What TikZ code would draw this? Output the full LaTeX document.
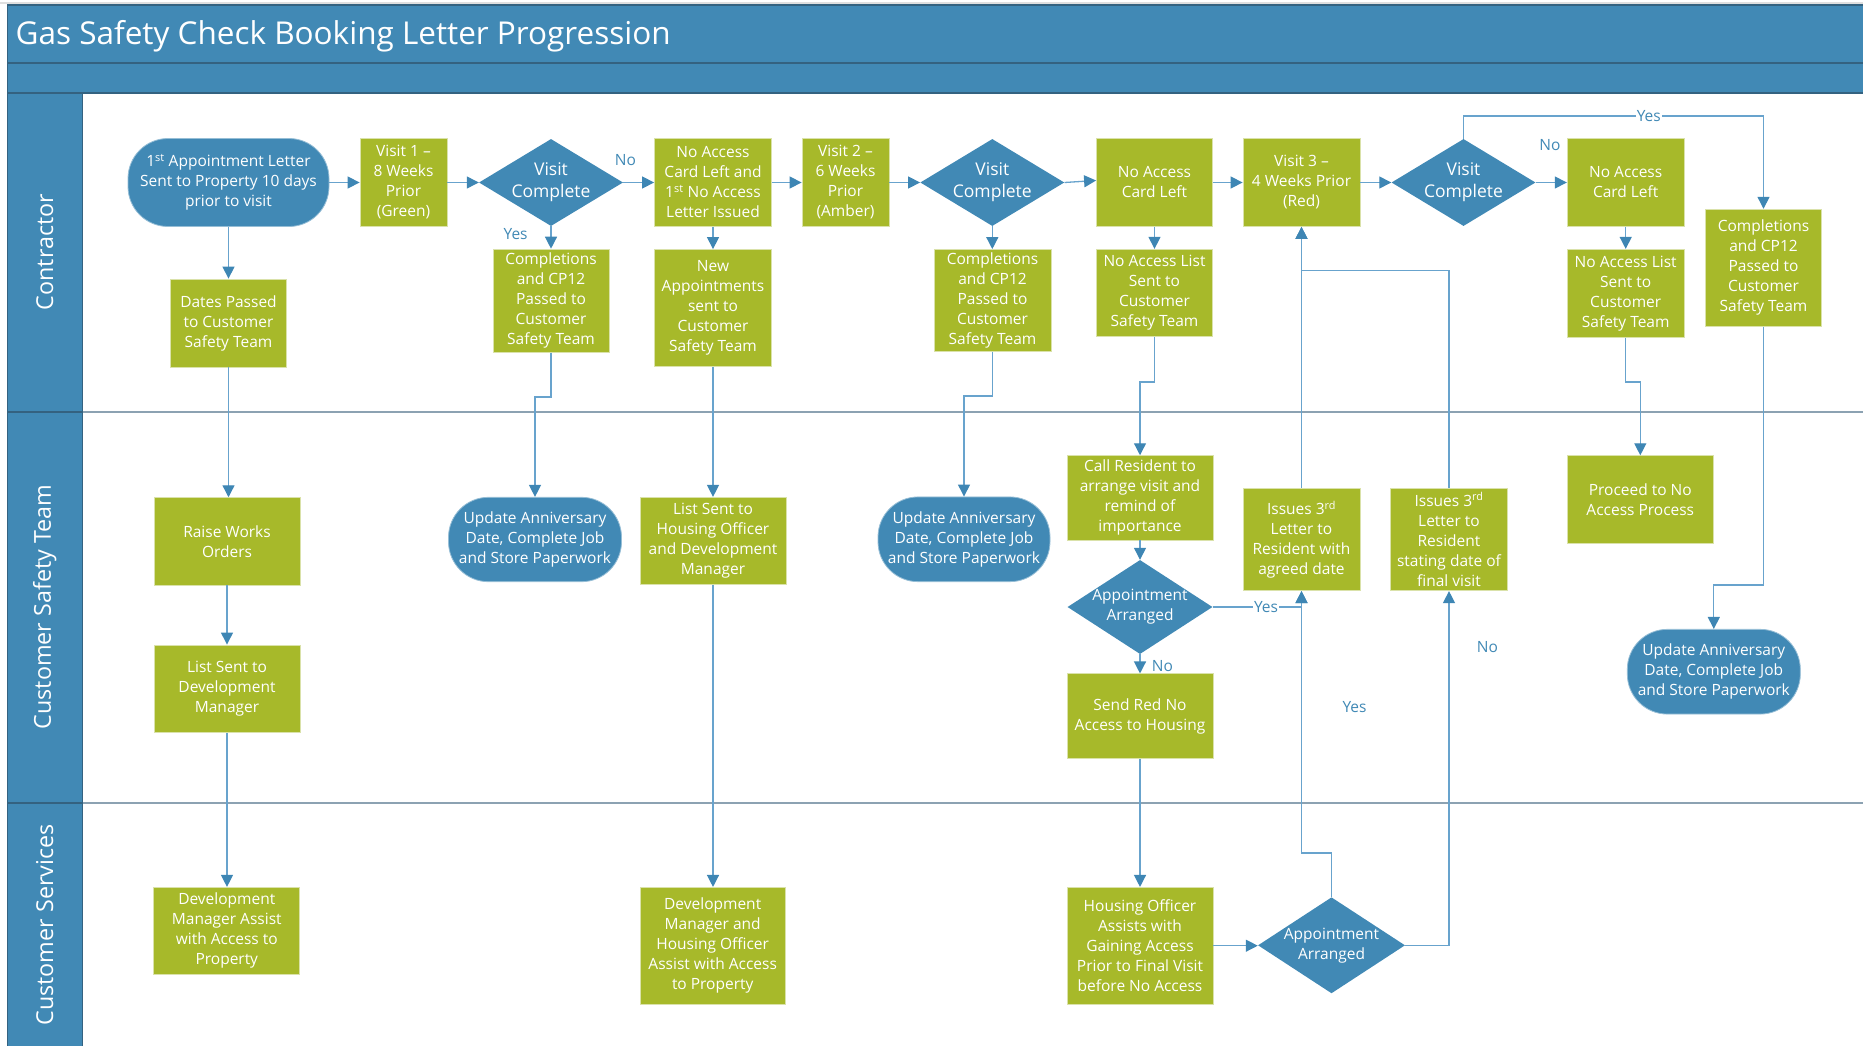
\documentclass[tikz,border=0pt]{standalone}
\usepackage{fontspec}
\setmainfont{Open Sans}
\usetikzlibrary{arrows.meta,shapes.geometric,calc}
\definecolor{laneblue}{RGB}{65,137,181}
\definecolor{darkrule}{RGB}{52,98,128}
\definecolor{leaf}{RGB}{167,185,42}
\definecolor{leafedge}{RGB}{218,226,170}
\definecolor{wire}{RGB}{104,163,205}
\definecolor{tipblue}{RGB}{62,134,180}
\definecolor{lanerule}{RGB}{140,162,178}

\begin{document}
\begin{tikzpicture}[x=1pt,y=-1pt,
  txt/.style={font=\fontsize{15.5}{20}\selectfont, text=white, align=center},
  box/.style={txt, rectangle, fill=leaf, draw=leafedge, line width=0.8pt, inner sep=0pt},
  term/.style={txt, rectangle, rounded corners=40pt, fill=laneblue, draw=laneblue!55!white, line width=0.8pt, inner sep=0pt},
  dia/.style={diamond, fill=laneblue, inner sep=0pt},
  diatext/.style={txt, inner sep=0pt},
  lbl/.style={font=\fontsize{15.5}{20}\selectfont, text=laneblue, inner sep=1pt},
  lanetitle/.style={rotate=90, font=\fontsize{23.3}{28}\selectfont, text=white},
  flow/.style={draw=wire, line width=1.3pt, -{Triangle[length=12pt,width=12pt,color=tipblue]}}
]
\useasboundingbox (0,0) rectangle (1863,1046);

% ---- frame: title bar, sub band and lane headers ----
\draw[gray!25, line width=1.5pt] (0,3) -- (1863,3);
\fill[laneblue] (7,5) rectangle (1863,93);
\fill[laneblue] (7,93) rectangle (82.5,1046);
\draw[darkrule, line width=1.5pt] (7,5) -- (1863,5);
\draw[darkrule, line width=1.5pt] (7,63) -- (1863,63);
\draw[darkrule, line width=1.5pt] (7,93) -- (1863,93);
\draw[darkrule, line width=0.8pt] (7,5) -- (7,1046);
\draw[darkrule, line width=0.8pt] (82.5,93) -- (82.5,1046);
\draw[lanerule, line width=2pt] (82.5,411.5) -- (1863,411.5);
\draw[lanerule, line width=2pt] (82.5,802.5) -- (1863,802.5);
\draw[darkrule, line width=2pt] (7,411.5) -- (82.5,411.5);
\draw[darkrule, line width=2pt] (7,802.5) -- (82.5,802.5);

\node[anchor=base west, font=\fontsize{31.5}{36}\selectfont, text=white, inner sep=0pt] (title) at (15.5,45) {Gas Safety Check Booking Letter Progression};

\node[lanetitle] (laneA) at (44.8,252) {Contractor};
\node[lanetitle] (laneB) at (44.8,607) {Customer Safety Team};
\node[lanetitle] (laneC) at (44.8,925) {Customer Services};

% ---- Contractor lane, top row ----
\node[term, minimum width=201pt, minimum height=88pt] (start) at (228.5,182.5) {1\textsuperscript{st} Appointment Letter\\Sent to Property 10 days\\prior to visit};
\node[box, minimum width=87pt, minimum height=88pt] (v1) at (403.5,182.5) {Visit 1 –\\8 Weeks\\Prior\\(Green)};
\node[dia, minimum width=144pt, minimum height=87pt] (d1) at (551,182.5) {};
\node[diatext, font=\fontsize{17.5}{22}\selectfont] (d1t) at (d1) {Visit\\Complete};
\node[box, minimum width=117pt, minimum height=88pt] (nac1) at (713,182.5) {No Access\\Card Left and\\1\textsuperscript{st} No Access\\Letter Issued};
\node[box, minimum width=87pt, minimum height=88pt] (v2) at (845.5,182.5) {Visit 2 –\\6 Weeks\\Prior\\(Amber)};
\node[dia, minimum width=144pt, minimum height=87pt] (d2) at (992.3,182.5) {};
\node[diatext, font=\fontsize{17.5}{22}\selectfont] (d2t) at (d2) {Visit\\Complete};
\node[box, minimum width=116pt, minimum height=88pt] (nac2) at (1154.5,182.5) {No Access\\Card Left};
\node[box, minimum width=117pt, minimum height=88pt] (v3) at (1301.5,182.5) {Visit 3 –\\4 Weeks Prior\\(Red)};
\node[dia, minimum width=144pt, minimum height=87pt] (d3) at (1463.5,182.5) {};
\node[diatext, font=\fontsize{17.5}{22}\selectfont] (d3t) at (d3) {Visit\\Complete};
\node[box, minimum width=117pt, minimum height=88pt] (nac3) at (1625.7,182.5) {No Access\\Card Left};
\node[box, minimum width=116pt, minimum height=117pt] (comp3) at (1763.5,267.7) {Completions\\and CP12\\Passed to\\Customer\\Safety Team};

% ---- Contractor lane, second row ----
\node[box, minimum width=116pt, minimum height=88pt] (dates) at (228.5,323) {Dates Passed\\to Customer\\Safety Team};
\node[box, minimum width=116pt, minimum height=103pt] (comp1) at (551,300.6) {Completions\\and CP12\\Passed to\\Customer\\Safety Team};
\node[box, minimum width=117pt, minimum height=117pt] (newapp) at (713,308) {New\\Appointments\\sent to\\Customer\\Safety Team};
\node[box, minimum width=117pt, minimum height=102pt] (comp2) at (992.5,300.5) {Completions\\and CP12\\Passed to\\Customer\\Safety Team};
\node[box, minimum width=116pt, minimum height=87.5pt] (nal1) at (1154.5,293) {No Access List\\Sent to\\Customer\\Safety Team};
\node[box, minimum width=117pt, minimum height=88pt] (nal2) at (1625.7,293.3) {No Access List\\Sent to\\Customer\\Safety Team};

% ---- Customer Safety Team lane ----
\node[box, minimum width=146pt, minimum height=87.3pt] (raise) at (227,541.3) {Raise Works\\Orders};
\node[box, minimum width=146pt, minimum height=87.7pt] (listdev) at (227,688.8) {List Sent to\\Development\\Manager};
\node[term, minimum width=173pt, minimum height=84.4pt] (upd1) at (535,539.5) {Update Anniversary\\Date, Complete Job\\and Store Paperwork};
\node[box, minimum width=146pt, minimum height=87pt] (listho) at (713,540.8) {List Sent to\\Housing Officer\\and Development\\Manager};
\node[term, minimum width=172pt, minimum height=84.7pt] (upd2) at (964,539.3) {Update Anniversary\\Date, Complete Job\\and Store Paperwork};
\node[box, minimum width=146pt, minimum height=84.3pt] (call) at (1140,497.8) {Call Resident to\\arrange visit and\\remind of\\importance};
\node[dia, minimum width=145pt, minimum height=94pt] (appt1) at (1140,607) {};
\node[diatext] (appt1t) at (appt1) {Appointment\\Arranged};
\node[box, minimum width=146pt, minimum height=84.3pt] (sendred) at (1140,716) {Send Red No\\Access to Housing};
\node[box, minimum width=117pt, minimum height=102.4pt] (ia) at (1301.5,539.5) {Issues 3\textsuperscript{rd}\\Letter to\\Resident with\\agreed date};
\node[box, minimum width=116.5pt, minimum height=102.4pt] (if) at (1449,539.5) {Issues 3\textsuperscript{rd}\\Letter to\\Resident\\stating date of\\final visit};
\node[box, minimum width=146pt, minimum height=87.6pt] (proceed) at (1640.3,499.5) {Proceed to No\\Access Process};
\node[term, minimum width=173pt, minimum height=84.7pt] (upd3) at (1713.8,671.7) {Update Anniversary\\Date, Complete Job\\and Store Paperwork};

% ---- Customer Services lane ----
\node[box, minimum width=146pt, minimum height=87pt] (devassist) at (226.8,930.8) {Development\\Manager Assist\\with Access to\\Property};
\node[box, minimum width=145pt, minimum height=116.7pt] (devho) at (712.7,945.7) {Development\\Manager and\\Housing Officer\\Assist with Access\\to Property};
\node[box, minimum width=146pt, minimum height=116.7pt] (hoassist) at (1140,945.7) {Housing Officer\\Assists with\\Gaining Access\\Prior to Final Visit\\before No Access};
\node[dia, minimum width=147pt, minimum height=96pt] (appt2) at (1331.5,945.3) {};
\node[diatext] (appt2t) at (appt2) {Appointment\\Arranged};

% ---- bend points of routed connectors ----
\coordinate (j1) at (535,397);
\coordinate (j2) at (964,396);
\coordinate (j3) at (1140,382);
\coordinate (j4) at (1640.3,382);
\coordinate (j5) at (1713.8,585);
\coordinate (j6) at (1763.5,116);
\coordinate (j7) at (1301.5,853);
\coordinate (j8) at (1301.5,270.7);

% ---- connectors ----
\draw[flow] (start) -- (v1);
\draw[flow] (v1) -- (d1);
\draw[flow] (d1) -- (nac1);
\draw[flow] (d1) -- (comp1);
\draw[flow] (nac1) -- (v2);
\draw[flow] (nac1) -- (newapp);
\draw[flow] (v2) -- (d2);
\draw[flow] (d2.east) -- ([yshift=2pt]nac2.west);
\draw[flow] (d2.south) -- (d2.south |- comp2.north);
\draw[flow] (nac2) -- (v3);
\draw[flow] (nac2) -- (nal1);
\draw[flow] (v3) -- (d3);
\draw[flow] (d3) -- (nac3);
\draw[flow] (nac3) -- (nal2);
\draw[flow] (d3.north) |- (j6) -- (comp3.north);

\draw[flow] (start.south) -- (start.south |- dates.north);
\draw[flow] (dates.south) -- (dates.south |- raise.north);
\draw[flow] (raise) -- (listdev);
\draw[flow] (listdev.south) -- (listdev.south |- devassist.north);
\draw[flow] (comp1.south) |- (j1) -- (upd1.north);
\draw[flow] (newapp) -- (listho);
\draw[flow] (listho.south) -- (listho.south |- devho.north);
\draw[flow] (comp2.south) |- (j2) -- (upd2.north);
\draw[flow] (nal1.south) |- (j3) -- (call.north);
\draw[flow] (call) -- (appt1);
\draw[flow] (appt1.east) -| (ia.south);
\draw[flow] (appt1) -- (sendred);
\draw[flow] (sendred) -- (hoassist);
\draw[flow] (hoassist.east) -- (hoassist.east -| appt2.west);
\draw[flow] (appt2.north) |- (j7) -- (ia.south);
\draw[flow] (appt2.east) -| (if.south);
\draw[flow] (ia) -- (v3);
\draw[flow] (if.north) |- (j8) -- (v3.south);
\draw[flow] (nal2.south) |- (j4) -- (proceed.north);
\draw[flow] (comp3.south) |- (j5) -- (upd3.north);

% ---- branch labels ----
\node[lbl] (no1) at (625.5,160) {No};
\node[lbl] (yes1) at (515.6,234) {Yes};
\node[lbl] (no3) at (1550,145) {No};
\node[lbl, fill=white] (yes3) at (1648.8,116) {Yes};
\node[lbl, fill=white] (yesA) at (1266,607) {Yes};
\node[lbl] (noA) at (1162.5,666) {No};
\node[lbl] (noB) at (1487.5,646.7) {No};
\node[lbl] (yesB) at (1354.5,706.7) {Yes};
\end{tikzpicture}
\end{document}
